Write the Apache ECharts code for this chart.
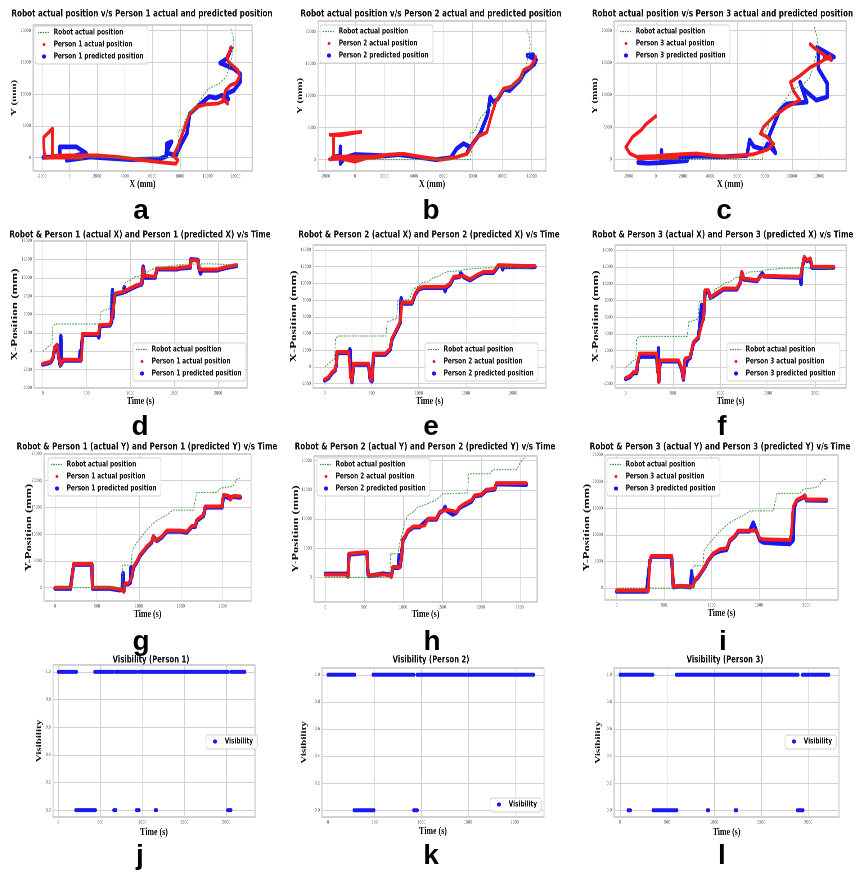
<!DOCTYPE html>
<html><head><meta charset="utf-8">
<script src="https://cdn.jsdelivr.net/npm/echarts@6/dist/echarts.min.js"></script>
<style>
html,body{margin:0;padding:0;background:#fff;overflow:hidden}
#wrap{position:relative;width:867px;height:872px;overflow:hidden;background:#fff}
#main{position:absolute;left:0;top:0;width:1205px;height:872px;transform:scaleX(0.72);transform-origin:0 0}
#letters{position:absolute;left:0;top:0;width:867px;height:872px;pointer-events:none}
</style></head><body>
<div id="wrap"><div id="main"></div><div id="letters"></div></div>
<script>
// ---------------- DATA ----------------
// '-' entries mark gaps where the scatter trail has no points (fast jumps)
const GAP = ['-','-'];
// Robot trajectory in the X-Y plane (mm)
const robotXY = [[0,0],[3700,0],[5600,0],[7850,0],[7900,1500],[7850,4200],[8100,4300],[8500,6500],[9200,8300],[9600,9500],[10000,10800],[10800,11600],[11300,12600],[11600,14500],[11800,16500],[11900,17800],[11850,19000],[11650,20500]];
// Person 1 X-Y
const p1ActXY = [[-1700,0],[-1200,0],[600,100],[900,0],[-1800,0],[-1850,1700],[-1860,3200],[-1230,4580],[-1230,2000],[-1230,100],[-1000,300],[0,350],[2000,350],[3500,100],[5000,-300],[6500,-700],[7700,-950],[7850,-400],[7500,300],[7800,1500],[8000,2700],[8350,4800],[8700,6900],[9200,8000],[9900,8400],[10700,8500],[11300,9000],[11450,8500],[11100,9200],[11300,10600],[11650,11400],[12100,11800],[12300,12800],[12170,13800],[11900,14300],[11500,15100],[11400,15900],[11650,16900],[11700,17350]];
const p1PredXY = [[-1900,50],[-1000,100],[-700,200],[-700,1700],[500,1700],[1200,700],[200,200],[-200,-400],[1500,100],[3000,-100],[4500,-300],[6500,-200],[7000,200],[7050,2200],[7400,2500],[7000,800],[7700,300],[7800,600],[8100,2200],[8500,3800],[8700,6900],[9300,8100],[10100,9600],[10600,9400],[11000,9800],[11500,9200],[11300,10000],[11900,10600],[12350,11900],[12350,13200],[11900,14000],[10900,14900],[11400,15600],[11650,16900],[11700,17300]];
// Person 2 X-Y
const p2ActXY = [[-1480,460],[-800,460],[-300,500],[1800,460],[1000,300],[-1400,100],[-1720,60],GAP,[-1700,3900],[-1000,3800],[0,4200],[400,4340],[-500,4100],[-1450,3900],[-1450,3000],[-1450,1500],[-1450,500],[-1200,300],[0,-300],[1000,400],[1600,600],[2400,800],[3300,900],[4600,400],[5800,0],[6900,400],[7600,900],[7900,2000],[8270,3500],[8950,4300],[9300,7200],[9600,9300],[10100,11100],[10600,11400],[11200,12700],[11450,14000],[11900,14500],[12200,15500],[12250,16100]];
const p2PredXY = [[-1500,400],[-1000,600],[-990,2000],[-990,-600],[-700,300],[0,800],[1000,700],[2000,600],[3000,800],[4000,500],[5500,0],[6500,300],[6900,1700],[7370,2500],[7800,2000],[7600,1000],[8000,2500],[8500,4100],[9000,7000],[9180,9800],[9400,9000],[9700,9500],[10100,11000],[10500,10800],[11200,12400],[11500,13600],[12200,15000],[12300,15600],[11700,16300],[12100,16400]];
// Person 3 X-Y
const p3ActXY = [[-1300,100],[-500,200],[1600,300],GAP,[0,6700],[-700,5500],[-1100,4500],[-1700,3500],[-2200,1900],[-1900,900],[-1400,400],[0,500],[540,620],[2000,800],[3000,900],[4500,500],[5500,400],[7200,800],[8200,1500],[8650,2400],[8160,3500],[7700,4000],[7900,5000],[8650,6600],[9600,8100],[10600,9200],[10100,10700],[9900,12000],[10600,13000],[11350,14300],[12100,15100],[12800,16100],[12900,15400],[11600,17400],[11350,17900]];
const p3PredXY = [[-1300,-500],[-600,-600],[500,-500],[2300,-200],[400,-300],[420,1400],[450,0],[1500,300],[3000,500],[5000,400],[6700,600],[6900,3000],[7200,2000],[8000,1500],[8200,2400],[8800,1000],[8300,3500],[8600,5000],[9100,7600],[9600,8600],[11100,8900],[10600,12000],[10800,11000],[11800,9200],[12600,9700],[12600,11800],[11950,14100],[11950,16900],[11850,17400],[13100,15900],[12400,15700]];

// Time series (s, mm)
const robotXt = [[0,0],[80,800],[105,900],[115,3400],[140,3700],[650,3700],[665,5400],[740,5700],[765,5800],[775,7900],[900,8100],[940,9300],[1000,9700],[1040,10100],[1100,10200],[1150,10700],[1200,10800],[1260,11200],[1300,11400],[1420,11500],[1500,11700],[1680,11850],[1900,11900],[2000,11850],[2100,11800],[2210,11700]];
const robotYt = [[0,0],[800,0],[806,4200],[910,4200],[920,7000],[970,8300],[1030,9500],[1090,10700],[1150,11700],[1210,12500],[1330,13600],[1410,14500],[1650,14500],[1690,17800],[1930,17800],[1970,18600],[2100,18900],[2130,19200],[2170,20300],[2210,20500]];
const robotYtH = [[0,0],[828,0],[840,4050],[935,4050],[956,5770],[1000,8000],[1021,9480],[1063,10620],[1128,11190],[1192,12050],[1300,12500],[1428,13300],[1514,14330],[1830,14450],[1845,17760],[2114,17760],[2157,18440],[2457,18440],[2500,19470],[2543,20330],[2586,20500]];

const p1XAct = [[0,-1680],[80,-1450],[100,-1230],[118,-770],[137,590],[164,910],[183,-770],[202,-1820],[233,-1140],[443,-1140],[448,500],[454,2360],[634,2360],[653,3550],[767,3640],[786,4450],[805,5820],[824,7860],[916,8090],[977,8450],[1073,9000],[1130,9230],[1145,11270],[1155,10300],[1168,10130],[1282,10130],[1301,11270],[1531,11270],[1569,11400],[1683,11500],[1691,12400],[1771,12400],[1786,11130],[1989,11130],[2027,11270],[2103,11500],[2210,11730]];
const p1XPred = [[0,-1780],[80,-1550],[100,-1330],[118,-870],[137,490],[164,810],[183,-870],[200,-1920],[206,2050],[212,-1700],[233,-1240],[420,-1240],[427,0],[434,-1240],[443,-1240],[454,2260],[630,2260],[640,1900],[653,3450],[767,3540],[786,4000],[795,8300],[800,4600],[805,6000],[824,7760],[916,7990],[930,8700],[940,8100],[977,8350],[1073,8900],[1130,9130],[1145,11500],[1168,10030],[1282,10030],[1301,11170],[1531,11170],[1569,11300],[1683,11400],[1691,12500],[1771,12400],[1786,11030],[1800,10600],[1815,11030],[1989,11030],[2027,11170],[2103,11400],[2210,11630]];
const p2XAct = [[0,-1480],[42,-1200],[78,-600],[113,-280],[125,500],[131,1800],[254,1800],[265,400],[272,-1200],[290,-1720],[300,-500],[307,400],[466,400],[475,-500],[484,-1400],[502,-1600],[519,1600],[643,1600],[661,1800],[696,2200],[714,3400],[767,4600],[802,5400],[820,7720],[926,7720],[961,8800],[996,9400],[1050,9600],[1279,9600],[1332,10000],[1368,10800],[1474,10900],[1544,10500],[1615,11000],[1686,11400],[1792,11400],[1845,12200],[2110,12100],[2233,12100]];
const p2XPred = [[0,-1600],[42,-1300],[78,-700],[113,-380],[125,400],[131,1700],[254,1700],[268,2100],[272,1600],[280,-1100],[290,-1800],[300,-600],[307,300],[466,300],[475,-600],[484,-1500],[502,-1700],[519,1500],[643,1500],[661,1700],[696,2100],[714,3300],[767,4500],[802,5300],[812,8200],[820,7620],[926,7620],[961,8700],[996,9300],[1050,9500],[1270,9500],[1279,9100],[1290,9500],[1332,9900],[1368,10700],[1430,10800],[1445,11200],[1474,10800],[1544,10400],[1615,10900],[1686,11300],[1792,11300],[1845,12100],[1880,12100],[1890,11700],[1900,12000],[2233,12000]];
const p3XAct = [[0,-1280],[46,-1040],[81,-560],[116,-560],[123,440],[144,1640],[327,1640],[338,-560],[349,-1760],[363,840],[556,840],[592,-160],[609,-1360],[627,1040],[680,1240],[715,3040],[768,3640],[820,5840],[838,9240],[873,9240],[891,8440],[926,8640],[979,9040],[1032,9440],[1172,9440],[1208,10240],[1225,11440],[1243,10640],[1384,10440],[1437,10960],[1841,10840],[1859,11840],[1884,13240],[1912,12840],[1947,13040],[1965,12040],[2194,12040]];
const p3XPred = [[0,-1380],[46,-1140],[81,-660],[116,-660],[123,340],[144,1300],[327,1300],[338,-500],[345,2240],[349,-1700],[363,740],[556,740],[592,-260],[609,-1460],[627,940],[640,300],[650,900],[680,1140],[715,2940],[768,3540],[785,5440],[800,7440],[820,5800],[838,9140],[873,9140],[891,8340],[926,8540],[979,8940],[1032,9340],[1172,9340],[1208,10140],[1225,11340],[1243,10540],[1384,10340],[1420,10900],[1440,11240],[1460,10900],[1841,10740],[1850,10000],[1859,11740],[1884,13140],[1912,12740],[1947,12940],[1965,11940],[2194,11940]];

const p1YAct = [[0,0],[184,0],[200,1000],[207,2690],[223,4440],[439,4440],[447,0],[654,0],[774,-310],[822,-750],[834,810],[874,810],[890,1200],[914,2060],[934,3940],[974,4880],[1013,6130],[1093,7690],[1153,8630],[1165,8800],[1173,9690],[1180,8940],[1213,8940],[1273,9560],[1333,10690],[1492,10690],[1572,10500],[1632,11560],[1672,11560],[1692,12690],[1772,13630],[1792,15190],[1991,15190],[2011,17380],[2071,17190],[2091,16440],[2131,17190],[2210,17060]];
const p1YPred = [[0,-150],[184,-150],[207,2590],[223,4340],[439,4340],[447,-150],[654,-150],[774,-460],[800,-300],[812,2690],[820,-700],[834,660],[874,660],[900,1000],[906,3800],[914,1900],[934,3790],[974,4730],[1013,5980],[1093,7540],[1153,8480],[1173,9540],[1213,8790],[1273,9410],[1333,10540],[1492,10540],[1572,10350],[1632,11410],[1672,11410],[1692,12540],[1772,13480],[1792,15040],[1991,15040],[2011,17230],[2071,16800],[2091,16800],[2131,17040],[2210,16900]];
const p2YAct = [[0,460],[270,460],[292,60],[300,1500],[304,4050],[313,4340],[536,4340],[549,630],[570,340],[742,510],[828,340],[849,60],[870,1770],[956,1770],[978,3480],[999,6620],[1021,6910],[1063,8050],[1136,8740],[1214,8740],[1280,8900],[1321,10050],[1428,10050],[1471,11190],[1557,11590],[1640,11400],[1685,11190],[1728,12050],[1792,12620],[1878,13190],[1921,14050],[2007,14220],[2071,15020],[2178,15190],[2200,16160],[2586,16160]];
const p2YPred = [[0,560],[270,560],[292,160],[304,3950],[313,4240],[536,4240],[549,530],[570,240],[742,610],[828,440],[849,160],[870,1670],[940,1670],[950,3770],[960,1800],[978,3380],[999,6520],[1021,6810],[1063,7950],[1136,8640],[1214,8640],[1321,9950],[1428,9950],[1471,11090],[1520,11490],[1540,12050],[1557,11490],[1640,10790],[1685,11090],[1728,11950],[1792,12400],[1878,12990],[1921,13950],[2007,14120],[2071,14920],[2178,15090],[2200,16000],[2586,15900]];
const p3YAct = [[0,-440],[316,-440],[333,-620],[351,5300],[368,6040],[579,6040],[597,310],[667,440],[807,310],[825,1560],[860,2180],[895,3120],[930,4050],[965,5300],[1018,6540],[1088,7290],[1158,7480],[1193,9030],[1246,9840],[1281,10780],[1474,10780],[1509,9350],[1544,9160],[1825,9030],[1842,10280],[1860,15260],[1895,16510],[1965,17130],[1983,17440],[2000,16630],[2211,16630]];
const p3YPred = [[0,-620],[316,-620],[351,5200],[368,5940],[579,5940],[597,210],[667,340],[780,210],[790,3120],[800,500],[825,1460],[860,2080],[895,3020],[930,3950],[965,5200],[1018,6440],[1088,7000],[1158,7200],[1193,8930],[1246,9740],[1281,10680],[1400,10680],[1440,12270],[1474,10680],[1509,9000],[1544,8600],[1700,8400],[1825,8300],[1860,9000],[1870,15000],[1895,16410],[1965,17030],[1983,17340],[2000,16530],[2211,16450]];

// Visibility: [start, end] time spans (s) at value 1 and value 0
const vis1On = [[0,215],[433,652],[680,930],[958,1161],[1177,2024],[2056,2222]];
const vis1Off = [[207,441],[660,684],[930,962],[1153,1169],[2016,2056]];
const vis2On = [[0,286],[482,921],[953,2203]];
const vis2Off = [[279,493],[918,957]];
const vis3On = [[0,350],[598,1891],[1937,2217]];
const vis3Off = [[85,110],[350,605],[928,942],[1225,1239],[1884,1944]];

const panelLetters = ['a','b','c','d','e','f','g','h','i','j','k','l'];

// ---------------- LAYOUT / STYLE ----------------
const S = 0.72;                 // horizontal squeeze of the original figure
const sx = v => v / S;          // final px -> chart px (horizontal)
const C = {robot:'#3a9a3a', act:'#f41c1c', pred:'#1818f0', vis:'#1a1af2'};
const TITLE_FONT = 'DejaVu Sans';
const SERIF = 'Liberation Serif';

function visData(on, off) {
  const d = [];
  on.forEach(s => { d.push([s[0],1],[s[1],1],GAP); });
  off.forEach(s => { d.push([s[0],0],[s[1],0],GAP); });
  return d;
}
function dashIcon(w,h){
  let s = `path://M0,0L0.01,0M${w},${h}L${w-0.01},${h}`;
  const y0 = h/2-0.6, y1 = h/2+0.6;
  for (let x = 0; x < w; x += 3.4) { const x2 = Math.min(x+2.0, w); s += `M${x},${y0}L${x2},${y0}L${x2},${y1}L${x},${y1}Z`; }
  return s;
}
function dotIcon(w,h,r){
  const cx = w/2, cy = h/2, rx = r/S;
  return `path://M0,0L0.01,0M${w},${h}L${w-0.01},${h}M${cx-rx},${cy}A${rx},${r},0,1,0,${cx+rx},${cy}A${rx},${r},0,1,0,${cx-rx},${cy}Z`;
}
const IW = 17, IH = 8;

const ser = (name, kind, data) => ({name, kind, data});
const panels = [
 {title:'Robot actual position v/s Person 1 actual and predicted position', tX:142, tAlign:'center', tY:15,
  frame:[33,25,252,171], xr:[-2640,13210], xs:2000, yr:[-2100,20880], ys:5000,
  xName:'X (mm)', xNameY:184, yName:'Y (mm)', yNameX:14, yNameFs:11, leg:[35,26],
  series:[ser('Robot actual position','robot',robotXY), ser('Person 1 actual position','act',p1ActXY), ser('Person 1 predicted position','pred',p1PredXY)]},
 {title:'Robot actual position v/s Person 2 actual and predicted position', tX:431, tAlign:'center', tY:15,
  frame:[318,21,546,171], xr:[-2510,12970], xs:2000, yr:[-1770,21670], ys:5000,
  xName:'X (mm)', xNameY:184, yName:'Y (mm)', yNameX:300, yNameFs:11, leg:[320,25],
  series:[ser('Robot actual position','robot',robotXY), ser('Person 2 actual position','act',p2ActXY), ser('Person 2 predicted position','pred',p2PredXY)]},
 {title:'Robot actual position v/s Person 3 actual and predicted position', tX:592, tAlign:'left', tY:15,
  frame:[614,21,846,171], xr:[-3070,13980], xs:2000, yr:[-1810,21500], ys:5000,
  xName:'X (mm)', xNameY:184, yName:'Y (mm)', yNameX:595, yNameFs:11, leg:[617,25],
  series:[ser('Robot actual position','robot',robotXY), ser('Person 3 actual position','act',p3ActXY), ser('Person 3 predicted position','pred',p3PredXY)]},
 {title:'Robot & Person 1 (actual X) and Person 1 (predicted X) v/s Time', tX:140, tAlign:'center', tY:236,
  frame:[34,241,247,388], xr:[-100,2330], xs:500, yr:[-5000,15000], ys:2500,
  xName:'Time (s)', xNameY:401, yName:'X-Position (mm)', yNameX:15, yNameFs:13, leg:[133,343],
  series:[ser('Robot actual position','robot',robotXt), ser('Person 1 actual position','act',p1XAct), ser('Person 1 predicted position','pred',p1XPred)]},
 {title:'Robot & Person 2 (actual X) and Person 2 (predicted X) v/s Time', tX:429, tAlign:'center', tY:236,
  frame:[313,245,546,388], xr:[-124,2350], xs:500, yr:[-2520,14600], ys:2000,
  xName:'Time (s)', xNameY:401, yName:'X-Position (mm)', yNameX:294, yNameFs:13, leg:[425,343],
  series:[ser('Robot actual position','robot',robotXt), ser('Person 2 actual position','act',p2XAct), ser('Person 2 predicted position','pred',p2XPred)]},
 {title:'Robot & Person 3 (actual X) and Person 3 (predicted X) v/s Time', tX:592, tAlign:'left', tY:236,
  frame:[615,245,846,388], xr:[-113,2324], xs:500, yr:[-2480,14640], ys:2000,
  xName:'Time (s)', xNameY:401, yName:'X-Position (mm)', yNameX:596, yNameFs:13, leg:[727,343],
  series:[ser('Robot actual position','robot',robotXt), ser('Person 3 actual position','act',p3XAct), ser('Person 3 predicted position','pred',p3XPred)]},
 {title:'Robot & Person 1 (actual Y) and Person 1 (predicted Y) v/s Time', tX:147, tAlign:'center', tY:448,
  frame:[44,454,251,601], xr:[-132,2338], xs:500, yr:[-2500,25000], ys:5000,
  xName:'Time (s)', xNameY:614, yName:'Y-Position (mm)', yNameX:29, yNameFs:12.5, leg:[48,458],
  series:[ser('Robot actual position','robot',robotYt), ser('Person 1 actual position','act',p1YAct), ser('Person 1 predicted position','pred',p1YPred)]},
 {title:'Robot & Person 2 (actual Y) and Person 2 (predicted Y) v/s Time', tX:425, tAlign:'center', tY:448,
  frame:[314,456,537,602], xr:[-146,2723], xs:500, yr:[-4230,20800], ys:5000,
  xName:'Time (s)', xNameY:614, yName:'Y-Position (mm)', yNameX:296, yNameFs:12.5, leg:[317,458],
  series:[ser('Robot actual position','robot',robotYtH), ser('Person 2 actual position','act',p2YAct), ser('Person 2 predicted position','pred',p2YPred)]},
 {title:'Robot & Person 3 (actual Y) and Person 3 (predicted Y) v/s Time', tX:720, tAlign:'center', tY:448,
  frame:[605,455,838,600], xr:[-123,2333], xs:500, yr:[-2240,25000], ys:5000,
  xName:'Time (s)', xNameY:613, yName:'Y-Position (mm)', yNameX:587, yNameFs:12.5, leg:[607,458],
  series:[ser('Robot actual position','robot',robotYt), ser('Person 3 actual position','act',p3YAct), ser('Person 3 predicted position','pred',p3YPred)]},
 {title:'Visibility (Person 1)', tX:151, tAlign:'center', tY:661, big:true,
  frame:[53,665,255,817], xr:[-64,2342], xs:500, yr:[-0.05,1.05], ys:0.2,
  xName:'Time (s)', xNameY:832, yName:'Visibility', yNameX:39, yNameFs:11, leg:[206,735],
  series:[ser('Visibility','vis',visData(vis1On, vis1Off))]},
 {title:'Visibility (Person 2)', tX:431, tAlign:'center', tY:661, big:true,
  frame:[322,668,544,817], xr:[-64,2314], xs:500, yr:[-0.05,1.05], ys:0.2,
  xName:'Time (s)', xNameY:831, yName:'Visibility', yNameX:304, yNameFs:11, leg:[490,798],
  series:[ser('Visibility','vis',visData(vis2On, vis2Off))]},
 {title:'Visibility (Person 3)', tX:725, tAlign:'center', tY:661, big:true,
  frame:[614,668,839,817], xr:[-64,2326], xs:500, yr:[-0.05,1.05], ys:0.2,
  xName:'Time (s)', xNameY:832, yName:'Visibility', yNameX:598, yNameFs:11, leg:[785,735],
  series:[ser('Visibility','vis',visData(vis3On, vis3Off))]}
];

const XNAME_FS = 11, TICK_FS = 4.5, TITLE_FS = 10, BIG_TITLE_FS = 9.6, LEG_FS = 8;
const isTick = (v, step) => Math.abs(v/step - Math.round(v/step)) < 1e-9;

const option = {animation:false, backgroundColor:'#ffffff', title:[], grid:[], xAxis:[], yAxis:[], legend:[], series:[]};

panels.forEach((p, i) => {
  const [L,T,R,B] = p.frame;
  const tfs = p.big ? BIG_TITLE_FS : TITLE_FS;
  option.title.push({text:p.title, left:sx(p.tX), top:p.tY - tfs*0.62, textAlign:p.tAlign, padding:0,
    textStyle:{fontFamily:TITLE_FONT, fontWeight:'bold', fontSize:tfs, color:'#111'}});
  option.grid.push({left:sx(L), top:T, width:sx(R-L), height:B-T, show:true, borderColor:'#b5b5b5', borderWidth:1.2,
    backgroundColor:'#ffffff', containLabel:false, outerBoundsMode:'none'});
  const axisCommon = (range, step, nfs) => ({
    type:'value', min:range[0], max:range[1], minInterval:step, maxInterval:step,
    splitNumber:Math.max(1, Math.round((range[1]-range[0])/step)),
    axisLine:{show:false}, axisTick:{show:false},
    splitLine:{show:true, lineStyle:{color:'#d2d2d2', width:1}},
    axisLabel:{fontSize:TICK_FS, color:'#555', margin:3, fontFamily:'DejaVu Sans',
      showMinLabel:isTick(range[0],step), showMaxLabel:isTick(range[1],step),
      formatter: v => step < 1 ? Number(v).toFixed(1) : String(Math.round(v))},
    nameLocation:'middle', nameMoveOverlap:false,
    nameTextStyle:{fontFamily:SERIF, fontWeight:'bold', fontSize:nfs, color:'#111'}
  });
  option.xAxis.push(Object.assign(axisCommon(p.xr, p.xs, XNAME_FS), {gridIndex:i, name:p.xName, nameGap:(p.xNameY - B) - XNAME_FS*0.5}));
  option.yAxis.push(Object.assign(axisCommon(p.yr, p.ys, p.yNameFs), {gridIndex:i, name:p.yName, nameGap:(L - p.yNameX)/S - p.yNameFs*0.5}));

  // draw order: predicted, actual, robot
  const order = {pred:0, act:1, vis:1, robot:2};
  p.series.slice().sort((a,b)=>order[a.kind]-order[b.kind]).forEach(s => {
    const base = {name:s.name, type:'line', xAxisIndex:i, yAxisIndex:i, data:s.data, symbol:'none', showSymbol:false,
      silent:true, clip:true, connectNulls:false, z:2+order[s.kind]};
    if (s.kind === 'robot') base.lineStyle = {color:C.robot, width:1, type:[2.2,1.6]};
    else if (s.kind === 'act') base.lineStyle = {color:C.act, width:3.8, cap:'round', join:'round'};
    else if (s.kind === 'pred') base.lineStyle = {color:C.pred, width:4.8, cap:'round', join:'round'};
    else base.lineStyle = {color:C.vis, width:4, cap:'round', join:'round'};
    base.itemStyle = {color:base.lineStyle.color};
    option.series.push(base);
  });

  const legData = p.series.map(s => {
    let icon, color = C[s.kind];
    if (s.kind === 'robot') icon = dashIcon(IW, IH);
    else if (s.kind === 'act') icon = dotIcon(IW, IH, 1.5);
    else icon = dotIcon(IW, IH, 2.1);
    return {name:s.name, icon, itemStyle:{color, borderWidth:0}};
  });
  option.legend.push({left:sx(p.leg[0]), top:p.leg[1], orient:'vertical', itemWidth:IW, itemHeight:IH, itemGap:4,
    selectedMode:false, padding:[2.5,6,3.5,4], backgroundColor:'rgba(255,255,255,0.9)', borderColor:'#cfcfcf', borderWidth:1, borderRadius:3,
    textStyle:{fontFamily:TITLE_FONT, fontWeight:'bold', fontSize:LEG_FS, color:'#111'}, data:legData});
});

const chart = echarts.init(document.getElementById('main'), null, {renderer:'canvas', devicePixelRatio:2});
chart.setOption(option);

// Panel letters (not squeezed)
const letterPos = [[141,214],[431,214],[724,214],[140,430],[431,430],[722,430],[141,645],[432,645],[723,645],[140,859],[431,859],[722,859]];
const letterChart = echarts.init(document.getElementById('letters'), null, {renderer:'canvas'});
letterChart.setOption({animation:false, title: panelLetters.map((t,i) => ({text:t, left:letterPos[i][0], top:letterPos[i][1]-17, textAlign:'center', padding:0,
  textStyle:{fontFamily:'Liberation Sans', fontWeight:'bold', fontSize:28, color:'#000'}}))});
</script>
</body></html>
